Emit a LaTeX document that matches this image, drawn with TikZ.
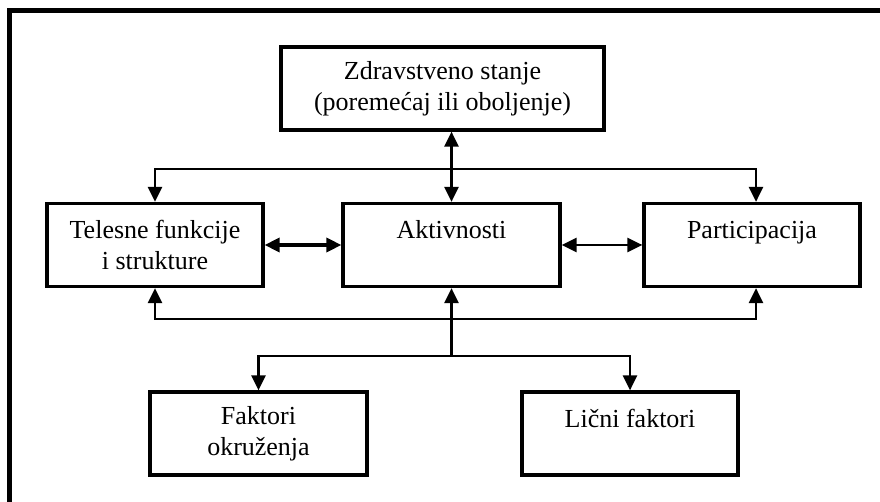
\documentclass[tikz,border=0pt]{standalone}
\usepackage{fontspec}
\setmainfont{Liberation Serif}
\usetikzlibrary{arrows.meta}
\begin{document}
\begin{tikzpicture}[x=1pt,y=1pt,
  box/.style={draw, line width=3.2pt, rectangle, inner sep=0pt, align=center,
    font=\fontsize{26}{31}\selectfont, minimum height=83pt},
  conn/.style={line width=2.6pt, line join=miter,
    >={Triangle[length=15pt,width=14pt]}},
  ]
\useasboundingbox (0,0) rectangle (880,-502);
% outer frame (left and top edges)
\draw[line width=5pt] (9.5,-502) -- (9.5,-10.5) -- (880,-10.5);
% boxes
\node[box, minimum width=323pt] (top) at (442.5,-88.5) {Zdravstveno stanje\\(poremećaj ili oboljenje)};
\node[box, minimum width=216pt] (tel) at (155,-245) {Telesne funkcije\\i strukture};
\node[box, minimum width=217pt] (akt) at (451.5,-245) {Aktivnosti\\\mbox{}};
\node[box, minimum width=216pt] (par) at (752,-245) {Participacija\\\mbox{}};
\node[box, minimum width=217pt] (fak) at (258.5,-433.5) {Faktori\\okruženja};
\node[box, minimum width=216pt] (lic) at (630,-433.5) {Lični faktori\\\mbox{}};
% helper coordinates
\coordinate (ur) at (756,-169);
\coordinate (lr) at (756,-319);
\coordinate (jn) at (451.5,-356);
% connectors
\draw[conn,<->] (akt.north |- top.south) -- (akt.north);
\draw[conn,<->] (tel.north) |- (ur) -- (ur |- par.north);
\draw[conn,<->] (tel.south) |- (lr) -- (lr |- par.south);
\draw[conn,->] (jn) -- (akt.south);
\draw[conn,<->] (fak.north) |- (jn) -| (lic.north);
\draw[conn,<->, line width=3.4pt] (tel.east) -- (akt.west);
\draw[conn,<->] (akt.east) -- (par.west);
\end{tikzpicture}
\end{document}
